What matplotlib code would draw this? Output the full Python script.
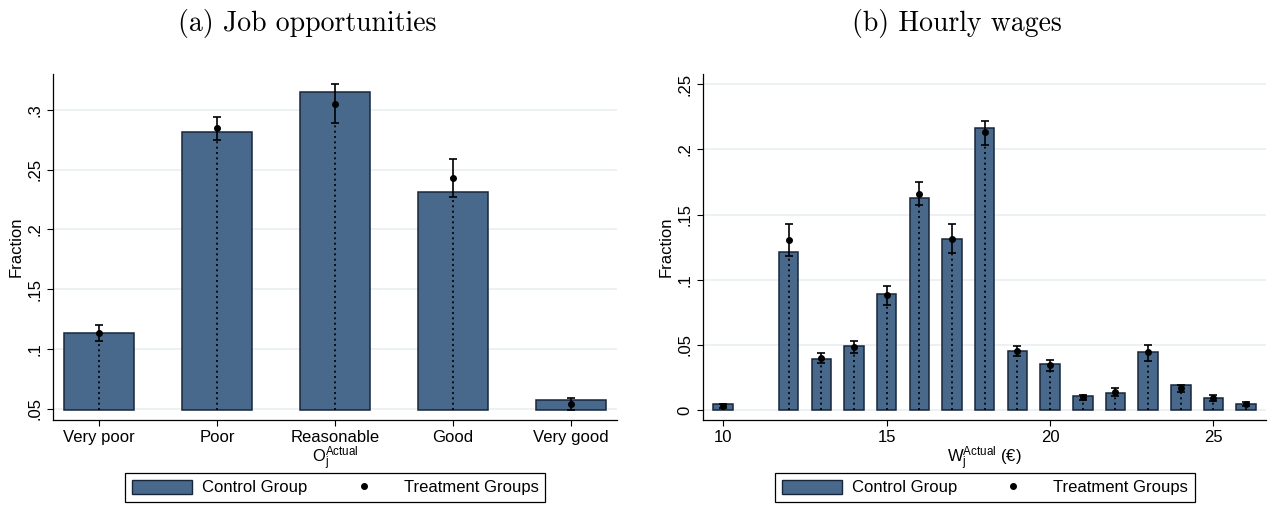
import matplotlib
matplotlib.use("Agg")
import matplotlib.pyplot as plt
import numpy as np
from matplotlib.patches import Patch
from matplotlib.lines import Line2D
from matplotlib.ticker import FuncFormatter

# ---------------- data ----------------
job_categories = ["Very poor", "Poor", "Reasonable", "Good", "Very good"]
job_control = [0.113, 0.2813, 0.3153, 0.2311, 0.0569]
job_treat = [0.1135, 0.2847, 0.3053, 0.2431, 0.0535]
job_treat_lo = [0.1068, 0.2746, 0.2889, 0.2269, 0.0487]
job_treat_hi = [0.1199, 0.2941, 0.3215, 0.2592, 0.0585]

wage_values = [10, 12, 13, 14, 15, 16, 17, 18, 19, 20, 21, 22, 23, 24, 25, 26]
wage_control = [0.0044, 0.121, 0.0389, 0.0494, 0.0888, 0.1626, 0.1311, 0.2163,
                0.0453, 0.0353, 0.011, 0.0128, 0.0443, 0.0189, 0.0095, 0.0046]
wage_treat = [0.003, 0.1306, 0.0402, 0.0486, 0.0883, 0.1661, 0.1313, 0.213,
              0.0456, 0.0343, 0.0097, 0.0141, 0.0443, 0.0166, 0.009, 0.0044]
wage_treat_lo = [0.0015, 0.1183, 0.0358, 0.0435, 0.0806, 0.1577, 0.1203, 0.2033,
                 0.0412, 0.0297, 0.0077, 0.011, 0.0379, 0.0138, 0.0072, 0.0028]
wage_treat_hi = [0.0046, 0.1429, 0.0435, 0.053, 0.0955, 0.1748, 0.1426, 0.2222,
                 0.0494, 0.0387, 0.0118, 0.0169, 0.05, 0.0195, 0.0118, 0.0059]
wage_xticks = [10, 15, 20, 25]

legend_labels = ["Control Group", "Treatment Groups"]

# ---------------- style ----------------
plt.rcParams["font.family"] = ["Liberation Sans", "DejaVu Sans"]
plt.rcParams["mathtext.fontset"] = "custom"
plt.rcParams["mathtext.rm"] = "Liberation Sans"
plt.rcParams["mathtext.it"] = "Liberation Sans:italic"
plt.rcParams["mathtext.bf"] = "Liberation Sans:bold"

BAR = "#48698b"
EDGE = "#18263a"
GRID = "#eaf1f2"

W, H = 1271, 507
fig = plt.figure(figsize=(W / 100, H / 100), dpi=100)


def rect(l, r, t, b):
    return [l / W, 1 - b / H, (r - l) / W, (b - t) / H]


def fmt(v, pos):
    if abs(v) < 1e-9:
        return "0"
    s = "%g" % round(v, 4)
    return s.lstrip("0")


def style_axes(ax):
    for s in ["top", "right"]:
        ax.spines[s].set_visible(False)
    for s in ["left", "bottom"]:
        ax.spines[s].set_linewidth(0.9)
        ax.spines[s].set_color("black")
    ax.yaxis.grid(True, color=GRID, lw=1.3)
    ax.set_axisbelow(True)
    ax.tick_params(axis="both", length=4.6, width=0.8, labelsize=12, color="black")
    ax.tick_params(axis="y", labelrotation=90, pad=3)
    ax.tick_params(axis="x", pad=2.5)
    for lab in ax.get_yticklabels():
        lab.set_va("center")
    ax.yaxis.set_major_formatter(FuncFormatter(fmt))


def draw(ax, x, ctrl, treat, lo, hi, base, width):
    x = np.asarray(x, dtype=float)
    ctrl = np.asarray(ctrl)
    treat = np.asarray(treat)
    lo = np.asarray(lo)
    hi = np.asarray(hi)
    ax.bar(x, ctrl - base, bottom=base, width=width, color=BAR,
           edgecolor=EDGE, linewidth=1.1, zorder=2)
    ax.vlines(x, base, lo, colors="black", linestyles=(0, (1.2, 2.0)),
              linewidth=1.2, zorder=3)
    ax.errorbar(x, treat, yerr=[treat - lo, hi - treat], fmt="o", color="black",
                ms=4, elinewidth=1.2, capsize=3.2, capthick=1.2, zorder=4)


# ---------------- left panel ----------------
ax1 = fig.add_axes(rect(53.3, 616.7, 74, 420))
xj = np.arange(len(job_categories))
draw(ax1, xj, job_control, job_treat, job_treat_lo, job_treat_hi, 0.0487, 0.593)
ax1.set_xlim(-0.39, 4.387)
ax1.set_ylim(0.0404, 0.3302)
ax1.set_yticks([0.05, 0.1, 0.15, 0.2, 0.25, 0.3])
ax1.set_xticks(xj)
ax1.set_xticklabels(job_categories)
style_axes(ax1)
ax1.set_ylabel("Fraction", fontsize=12)
ax1.yaxis.set_label_coords(-0.052, 0.5)
ax1.set_xlabel(r"$\mathrm{O}_\mathrm{j}^\mathrm{Actual}$", fontsize=12)
ax1.xaxis.set_label_coords(0.5, -0.072)

# ---------------- right panel ----------------
ax2 = fig.add_axes(rect(703.3, 1266, 74, 420))
draw(ax2, wage_values, wage_control, wage_treat, wage_treat_lo, wage_treat_hi, 0.0, 0.6)
ax2.set_xlim(9.388, 26.61)
ax2.set_ylim(-0.00768, 0.2579)
ax2.set_yticks([0, 0.05, 0.1, 0.15, 0.2, 0.25])
ax2.set_xticks(wage_xticks)
style_axes(ax2)
ax2.set_ylabel("Fraction", fontsize=12)
ax2.yaxis.set_label_coords(-0.052, 0.5)
ax2.set_xlabel(r"$\mathrm{W}_\mathrm{j}^\mathrm{Actual}$ (€)", fontsize=12)
ax2.xaxis.set_label_coords(0.5, -0.072)

# ---------------- titles ----------------
fig.text(307.5 / W, 1 - 31 / H, "(a) Job opportunities", family="cmr10",
         fontsize=20, ha="center", va="baseline")
fig.text(957 / W, 1 - 31 / H, "(b) Hourly wages", family="cmr10",
         fontsize=20, ha="center", va="baseline")

# ---------------- legends ----------------
handles = [Patch(facecolor=BAR, edgecolor=EDGE, linewidth=1.0),
           Line2D([], [], marker="o", color="black", ls="none", ms=4)]
for l, r in [(125.3, 545.3), (775, 1194.7)]:
    leg = fig.legend(handles, legend_labels, loc="upper left",
                     bbox_to_anchor=(l / W, 1 - 503 / H, (r - l) / W, 30 / H),
                     mode="expand", ncol=2, fontsize=12, frameon=True,
                     fancybox=False, edgecolor="black", framealpha=1,
                     handlelength=3.6, handleheight=0.9, handletextpad=0.6,
                     borderpad=0.4, borderaxespad=0, columnspacing=1.5)
    leg.get_frame().set_linewidth(0.9)

fig.savefig("out.png", dpi=100, facecolor="white")
